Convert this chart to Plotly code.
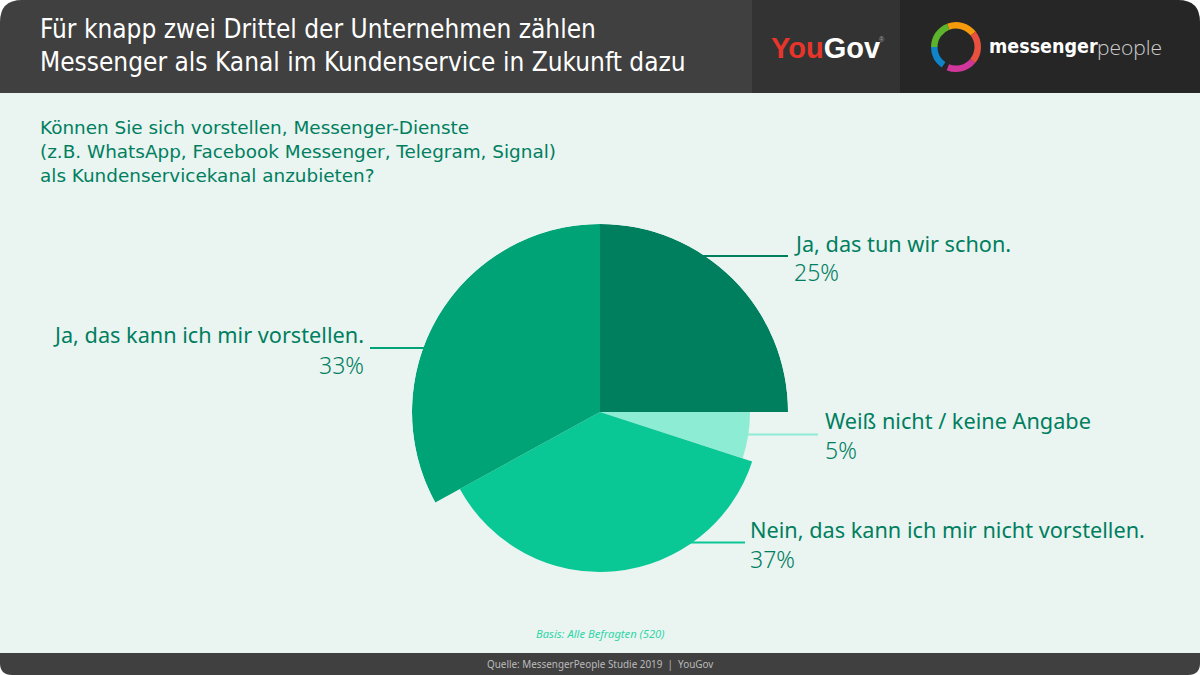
import plotly.graph_objects as go

W = 1200
H = 675

LABELS = [
    "Ja, das tun wir schon.",
    "Weiß nicht / keine Angabe",
    "Nein, das kann ich mir nicht vorstellen.",
    "Ja, das kann ich mir vorstellen.",
]
SHARES = [25, 5, 37, 33]
RING_VALUES = [73, 78, 72, 13, 55, 69]

TITLE_LINES = [
    "Für knapp zwei Drittel der Unternehmen zählen",
    "Messenger als Kanal im Kundenservice in Zukunft dazu",
]
QUESTION = "Können Sie sich vorstellen, Messenger-Dienste<br>(z.B. WhatsApp, Facebook Messenger, Telegram, Signal)<br>als Kundenservicekanal anzubieten?"
BASIS = "Basis: Alle Befragten (520)"
SOURCE = "Quelle: MessengerPeople Studie 2019  |  YouGov"

SLICE_COLORS = ["#007F5F", "#8CECD4", "#09C896", "#00A376"]
SLICE_RADIUS = [188, 150, 160, 188]
RING_COLORS = ["#F59A0C", "#E8503F", "#D1369B", "#00000000", "#0F84C8", "#5DB32B"]

BODY_FONT = "Noto Sans"
TITLE_FONT = "DejaVu Sans Condensed, Roboto, sans-serif"
DARK_GREEN = "#007F5F"
LABEL_SIZE = 21.7
PCT_SIZE = 23


def px(x):
    return x / W


def py(y):
    return 1 - y / H


def rect(x0, y0, x1, y1, color):
    return dict(
        type="rect", xref="paper", yref="paper", layer="below",
        x0=px(x0), x1=px(x1), y0=py(y0), y1=py(y1),
        fillcolor=color, line=dict(width=0),
    )


def leader(x0, x1, y, color):
    return dict(
        type="line", xref="paper", yref="paper", layer="below",
        x0=px(x0), x1=px(x1), y0=py(y), y1=py(y),
        line=dict(color=color, width=2),
    )


def note(text, x, y, size, color, anchor="left", weight=400, family=BODY_FONT, style="normal"):
    return dict(
        text=text, x=px(x), y=py(y), xref="paper", yref="paper",
        xanchor=anchor, yanchor="middle", align=anchor, showarrow=False,
        font=dict(family=family, size=size, color=color, weight=weight, style=style),
    )


# bar centres and widths for the pie wedges, clockwise from 12 o'clock
thetas = []
widths = []
start = 0
for s in SHARES:
    widths.append(s * 3.6)
    thetas.append(start + s * 1.8)
    start += s * 3.6

fig = go.Figure()

fig.add_trace(
    go.Barpolar(
        r=SLICE_RADIUS,
        theta=thetas,
        width=widths,
        marker=dict(color=SLICE_COLORS, line=dict(width=0)),
        text=LABELS,
        hoverinfo="text",
    )
)

# logo ring
fig.add_trace(
    go.Pie(
        values=RING_VALUES,
        hole=0.74,
        sort=False,
        direction="clockwise",
        rotation=-21,
        marker=dict(colors=RING_COLORS, line=dict(width=0)),
        textinfo="none",
        hoverinfo="skip",
        showlegend=False,
        domain=dict(x=[px(931), px(981)], y=[py(72), py(22)]),
    )
)

shapes = [
    rect(0, 93, W, 653, "#EAF4F1"),
    # header and footer with rounded corners
    dict(
        type="path", xref="paper", yref="paper", layer="below", fillcolor="#404040", line=dict(width=0),
        path=f"M {px(0)} {py(93)} L {px(0)} {py(22)} Q {px(0)} {py(0)} {px(22)} {py(0)} L {px(752)} {py(0)} L {px(752)} {py(93)} Z",
    ),
    rect(752, 0, 900, 93, "#333333"),
    dict(
        type="path", xref="paper", yref="paper", layer="below", fillcolor="#262626", line=dict(width=0),
        path=f"M {px(900)} {py(93)} L {px(900)} {py(0)} L {px(1178)} {py(0)} Q {px(1200)} {py(0)} {px(1200)} {py(22)} L {px(1200)} {py(93)} Z",
    ),
    dict(
        type="path", xref="paper", yref="paper", layer="below", fillcolor="#404040", line=dict(width=0),
        path=f"M {px(0)} {py(653)} L {px(1200)} {py(653)} L {px(1200)} {py(663)} Q {px(1200)} {py(675)} {px(1188)} {py(675)} L {px(12)} {py(675)} Q {px(0)} {py(675)} {px(0)} {py(663)} Z",
    ),
    leader(700, 788, 256, "#007F5F"),
    leader(370, 430, 348, "#00A376"),
    leader(745, 818, 434.5, "#8CECD4"),
    leader(690, 745, 542.5, "#09C896"),
]

annotations = [
    note(TITLE_LINES[0], 38, 29, 26, "#FFFFFF", family=TITLE_FONT),
    note(TITLE_LINES[1], 38, 62, 26, "#FFFFFF", family=TITLE_FONT),
    note(QUESTION, 38, 152, 18.4, DARK_GREEN, family="DejaVu Sans"),
    note(LABELS[0], 792, 243, LABEL_SIZE, DARK_GREEN),
    note(f"{SHARES[0]}%", 792, 272, PCT_SIZE, DARK_GREEN, weight=300),
    note(LABELS[1], 823, 421, LABEL_SIZE, DARK_GREEN),
    note(f"{SHARES[1]}%", 823, 450, PCT_SIZE, DARK_GREEN, weight=300),
    note(LABELS[2], 748, 529, LABEL_SIZE, DARK_GREEN),
    note(f"{SHARES[2]}%", 748, 559, PCT_SIZE, DARK_GREEN, weight=300),
    note(LABELS[3], 366, 335, LABEL_SIZE, DARK_GREEN, anchor="right"),
    note(f"{SHARES[3]}%", 366, 365, PCT_SIZE, DARK_GREEN, anchor="right", weight=300),
    note(BASIS, 600, 633.5, 11.2, "#2FD6A8", anchor="center", style="italic"),
    note(SOURCE, 600, 664, 9.9, "#BBBBBB", anchor="center"),
    note(
        "<span style='color:#E8352B'>You</span>Gov",
        769, 48, 29, "#FFFFFF", weight=700, family="Liberation Sans",
    ),
    note("®", 877, 40, 7, "#AAAAAA", family="Liberation Sans"),
    note("messenger", 987, 47, 19.5, "#FFFFFF", weight=700, family=TITLE_FONT),
    note("people", 1095, 47, 21, "#CCCCCC", weight=300, family="Open Sans"),
]

fig.update_layout(
    width=W,
    height=H,
    margin=dict(l=0, r=0, t=0, b=0),
    paper_bgcolor="white",
    showlegend=False,
    shapes=shapes,
    annotations=annotations,
    polar=dict(
        domain=dict(x=[px(412), px(788)], y=[py(600), py(224)]),
        bgcolor="rgba(0,0,0,0)",
        barmode="overlay",
        radialaxis=dict(range=[0, 188], visible=False),
        angularaxis=dict(visible=False, direction="clockwise", rotation=90),
    ),
)

fig.write_html(
    "out.html",
    config=dict(displayModeBar=False),
    post_script="document.body.style.margin='0';",
)
